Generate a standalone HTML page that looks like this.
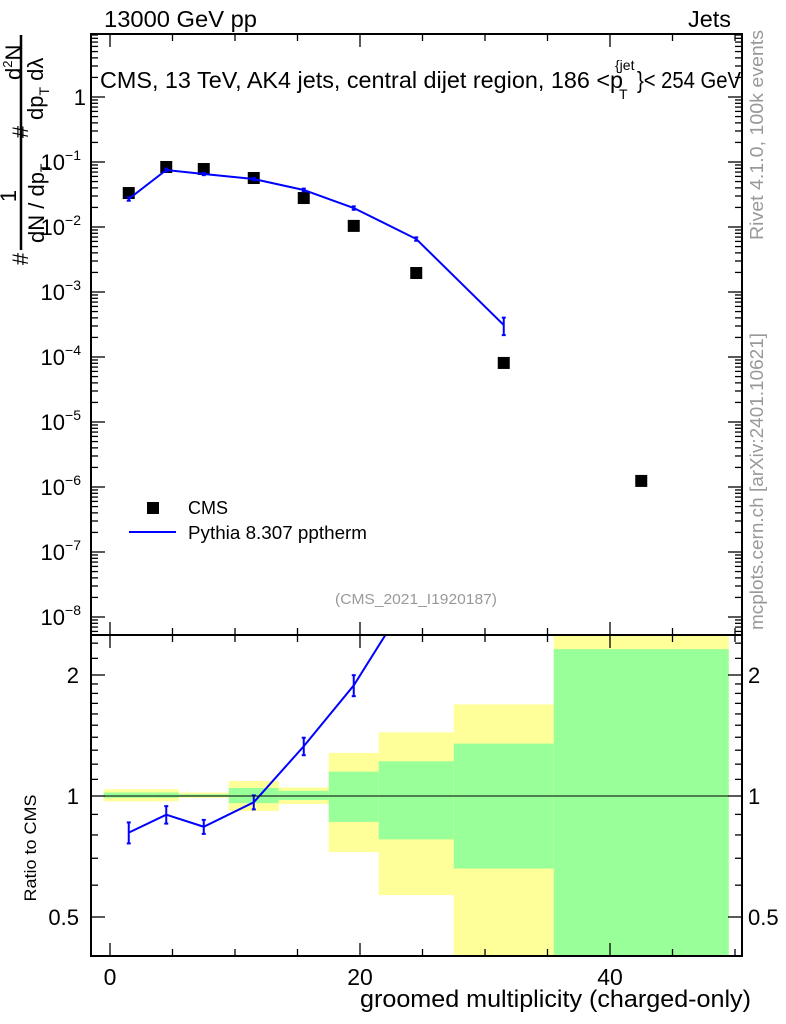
<!DOCTYPE html>
<html><head><meta charset="utf-8"><style>
html,body{margin:0;padding:0;background:#fff;}
svg{display:block;font-family:"Liberation Sans",sans-serif;}
</style></head><body>
<svg id="chart" width="786" height="1024" viewBox="0 0 786 1024" xmlns="http://www.w3.org/2000/svg">
<g id="bands"></g>
<g id="marks"></g>
<g id="axes"></g>
<text x="104" y="27" font-size="23" textLength="153" lengthAdjust="spacingAndGlyphs">13000 GeV pp</text>
<text x="688" y="27" font-size="23" textLength="43" lengthAdjust="spacingAndGlyphs">Jets</text>
<g>
<text x="100" y="88" font-size="23" textLength="523" lengthAdjust="spacingAndGlyphs">CMS, 13 TeV, AK4 jets, central dijet region, 186 &lt;p</text>
<text x="615" y="70" font-size="14">{jet</text>
<text x="619" y="99" font-size="14">T</text>
<text x="637" y="88" font-size="23" textLength="104" lengthAdjust="spacingAndGlyphs">}&lt; 254 GeV</text>
</g>
<text x="416" y="604" font-size="15" fill="#999" text-anchor="middle" textLength="162" lengthAdjust="spacingAndGlyphs">(CMS_2021_I1920187)</text>
<text transform="translate(763,240) rotate(-90)" font-size="18" fill="#999" textLength="210" lengthAdjust="spacingAndGlyphs">Rivet 4.1.0,  100k events</text>
<text transform="translate(763,630) rotate(-90)" font-size="18" fill="#999" textLength="297" lengthAdjust="spacingAndGlyphs">mcplots.cern.ch [arXiv:2401.10621]</text>
<rect x="147" y="502" width="12" height="12" fill="#000"/>
<text x="188" y="514" font-size="18">CMS</text>
<line x1="129" y1="532" x2="176" y2="532" stroke="#00f" stroke-width="2"/>
<text x="188" y="539" font-size="18" textLength="179" lengthAdjust="spacingAndGlyphs">Pythia 8.307 pptherm</text>
<g font-size="22">
<line x1="21" y1="35" x2="21" y2="250" stroke="#000" stroke-width="2.5"/>
<text transform="translate(28,259) rotate(-90)" text-anchor="middle">#</text>
<text transform="translate(16,196) rotate(-90)" text-anchor="middle">1</text>
<text transform="translate(44,243) rotate(-90)">dN / dp<tspan font-size="14" dy="6">T</tspan></text>
<text transform="translate(28,132) rotate(-90)" text-anchor="middle">#</text>
<text transform="translate(21,80) rotate(-90)">d<tspan font-size="13" dy="-9">2</tspan><tspan dy="9">N</tspan></text>
<text transform="translate(43,120) rotate(-90)">dp<tspan font-size="14" dy="6">T</tspan><tspan dy="-6">  dλ</tspan></text>
</g>
<text transform="translate(36,848) rotate(-90)" font-size="17" text-anchor="middle" textLength="107" lengthAdjust="spacingAndGlyphs">Ratio to CMS</text>
<text x="360" y="1007" font-size="24" textLength="391" lengthAdjust="spacingAndGlyphs">groomed multiplicity (charged-only)</text>
</svg>
<script>
const binLo = [-0.5,3.5,5.5,9.5,13.5,17.5,21.5,27.5,35.5];
const binHi = [3.5,5.5,9.5,13.5,17.5,21.5,27.5,35.5,49.5];
const xCenters = [1.5,4.5,7.5,11.5,15.5,19.5,24.5,31.5,42.5];
const cmsValues = [0.0333,0.0838,0.078,0.0567,0.0279,0.0104,0.00196,8.1e-5,1.24e-6];
const pythiaValues = [0.027,0.0753,0.0654,0.0547,0.0371,0.0196,0.00653,3.1e-4,0];
const pythiaRelErr = [0.06,0.05,0.04,0.04,0.05,0.06,0.06,0.3,0];
const greenLo = [0.99,0.99,0.995,0.96,0.977,0.862,0.78,0.66,0.3];
const greenHi = [1.02,1.02,1.01,1.047,1.03,1.15,1.22,1.35,2.32];
const yellowLo = [0.97,0.97,0.99,0.918,0.955,0.725,0.567,0.3,0.3];
const yellowHi = [1.04,1.04,1.02,1.09,1.05,1.28,1.44,1.69,3];
const xTickLabels = [0,20,40];
const ratioTickLabels = [0.5,1,2];

const NS="http://www.w3.org/2000/svg";
const L=91,R=742,T=34,M=635,B=956;
const X=v=>110+v*12.5;
const Y=v=>97-Math.log10(v)*65;
const YR=v=>796-Math.log2(v)*121;
const clampR=y=>Math.max(M,Math.min(B,y));
function mk(tag,attrs,parent){const e=document.createElementNS(NS,tag);for(const k in attrs)e.setAttribute(k,attrs[k]);parent.appendChild(e);return e;}
const bands=document.getElementById('bands'),marks=document.getElementById('marks'),axes=document.getElementById('axes');

binLo.forEach((lo,i)=>{
  let y1=clampR(YR(yellowHi[i])),y2=clampR(YR(yellowLo[i]));
  let r=mk('rect',{x:X(lo),y:y1,width:X(binHi[i])-X(lo),height:y2-y1,fill:'#ffff99'},bands);
  
  
  y1=clampR(YR(greenHi[i]));y2=clampR(YR(greenLo[i]));
  r=mk('rect',{x:X(lo),y:y1,width:X(binHi[i])-X(lo),height:y2-y1,fill:'#99ff99'},bands);
  
  
});

xCenters.forEach((x,i)=>{
  const r=mk('rect',{x:X(x)-6,y:Y(cmsValues[i])-6,width:12,height:12,fill:'#000'},marks);
  
  
});
let pts=[],rpts=[];
xCenters.forEach((x,i)=>{ if(pythiaValues[i]>0){pts.push(X(x)+','+Y(pythiaValues[i]));rpts.push(X(x)+','+YR(pythiaValues[i]/cmsValues[i]));}});
let pl=mk('polyline',{points:pts.join(' '),fill:'none',stroke:'#00f','stroke-width':2},marks);


const clip=mk('clipPath',{id:'rclip'},marks);mk('rect',{x:L,y:M,width:R-L,height:B-M},clip);
let rl=mk('polyline',{points:rpts.join(' '),fill:'none',stroke:'#00f','stroke-width':2,'clip-path':'url(#rclip)'},marks);


xCenters.forEach((x,i)=>{
  const v=pythiaValues[i];if(v<=0)return;
  const e=pythiaRelErr[i];
  const g=mk('g',{stroke:'#00f','stroke-width':2},marks);
  
  
  const ya=Y(v*(1+e)),yb=Y(v*Math.max(0.05,1-e));
  mk('line',{x1:X(x),x2:X(x),y1:ya,y2:yb},g);mk('line',{x1:X(x)-2,x2:X(x)+2,y1:ya,y2:ya},g);mk('line',{x1:X(x)-2,x2:X(x)+2,y1:yb,y2:yb},g);
  const rv=v/cmsValues[i];const ra=YR(rv*(1+e)),rb=YR(rv*(1-e));
  if(ra<M)return;
  const g2=mk('g',{stroke:'#00f','stroke-width':2},marks);
  
  
  mk('line',{x1:X(x),x2:X(x),y1:ra,y2:rb},g2);mk('line',{x1:X(x)-2,x2:X(x)+2,y1:ra,y2:ra},g2);mk('line',{x1:X(x)-2,x2:X(x)+2,y1:rb,y2:rb},g2);
});
mk('line',{x1:L,x2:R,y1:YR(1),y2:YR(1),stroke:'#000','stroke-width':1},axes);

mk('rect',{x:L,y:T,width:R-L,height:M-T,fill:'none',stroke:'#000','stroke-width':2},axes);
mk('rect',{x:L,y:M,width:R-L,height:B-M,fill:'none',stroke:'#000','stroke-width':2},axes);
const tk={stroke:'#000','stroke-width':1.3};
for(let v=0;v<=50;v+=5){
  const big=v%20===0, len=big?13:7;
  [T,M].forEach(y=>mk('line',Object.assign({x1:X(v),x2:X(v),y1:y,y2:y+len},tk),axes));
  [M,B].forEach(y=>mk('line',Object.assign({x1:X(v),x2:X(v),y1:y,y2:y-len},tk),axes));
}
xTickLabels.forEach(v=>{const t=mk('text',{x:X(v),y:985,'font-size':23,'text-anchor':'middle'},axes);t.textContent=v;
  
  });
for(let d=-9;d<=1;d++){
  for(let m=1;m<10;m++){
    const y=Y(m*Math.pow(10,d));if(y<T||y>M)continue;
    const len=m===1?14:7;
    mk('line',Object.assign({x1:L,x2:L+len,y1:y,y2:y},tk),axes);
    mk('line',Object.assign({x1:R,x2:R-len,y1:y,y2:y},tk),axes);
  }
}
for(let d=-8;d<=0;d++){
  const t=mk('text',{x:d===0?86:81,y:Y(Math.pow(10,d))+8,'font-size':22,'text-anchor':'end'},axes);
  
  
  if(d===0)t.textContent='1';else{t.textContent='10';const s=mk('tspan',{'font-size':14,dy:-10},t);s.textContent='\u2212'+(-d);}
}
const rmin=[0.4,0.6,0.7,0.8,0.9,1.1,1.2,1.3,1.4,1.5,1.6,1.7,1.8,1.9,2.2,2.4];
rmin.forEach(v=>{const y=YR(v);mk('line',Object.assign({x1:L,x2:L+7,y1:y,y2:y},tk),axes);mk('line',Object.assign({x1:R,x2:R-7,y1:y,y2:y},tk),axes);});
ratioTickLabels.forEach(v=>{const y=YR(v);
  mk('line',Object.assign({x1:L,x2:L+14,y1:y,y2:y},tk),axes);mk('line',Object.assign({x1:R,x2:R-14,y1:y,y2:y},tk),axes);
  let t=mk('text',{x:79,y:y+8,'font-size':22,'text-anchor':'end'},axes);t.textContent=v;
  
  
  t=mk('text',{x:748,y:y+8,'font-size':22},axes);t.textContent=v;
  
  
});
</script>
</body></html>
